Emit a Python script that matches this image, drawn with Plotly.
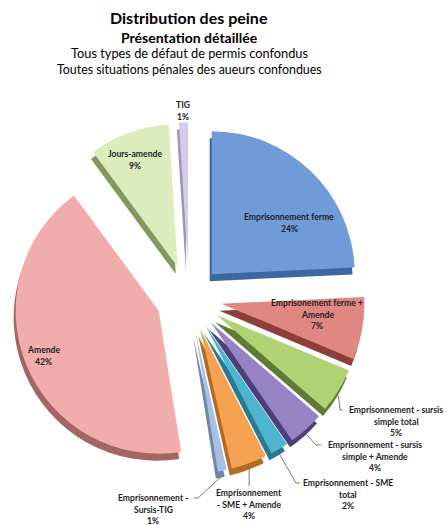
import math
import plotly.graph_objects as go

# ---------------- data ----------------
categories = [
    "Emprisonnement ferme",
    "Emprisonement ferme + Amende",
    "Emprisonnement - sursis simple total",
    "Emprisonnement - sursis simple + Amende",
    "Emprisonnement - SME total",
    "Emprisonnement - SME + Amende",
    "Emprisonnement - Sursis-TIG",
    "Amende",
    "Jours-amende",
    "TIG",
]
values = [24, 7, 5, 4, 2, 4, 1, 42, 9, 1]
display_labels = [
    ["Emprisonnement ferme"],
    ["Emprisonement ferme +", "Amende"],
    ["Emprisonnement - sursis", "simple total"],
    ["Emprisonnement - sursis", "simple + Amende"],
    ["Emprisonnement - SME", "total"],
    ["Emprisonnement", "- SME + Amende"],
    ["Emprisonnement -", "Sursis-TIG"],
    ["Amende"],
    ["Jours-amende"],
    ["TIG"],
]
title_lines = [
    "Distribution des peine",
    "Présentation détaillée",
    "Tous types de défaut de permis confondus",
    "Toutes situations pénales des aueurs confondues",
]

# ---------------- styles ----------------
colors = ["#6f9bd8", "#e08784", "#b0d273", "#9683c4", "#4cb5cf",
          "#f4a152", "#a9c0e6", "#f0adab", "#dbedbd", "#d5cbea"]
side_colors = ["#3b68a3", "#8f3d3a", "#5f7b35", "#4f3f78", "#2b7a8d",
               "#b46a22", "#6f87aa", "#a36665", "#84985d", "#9c93b5"]
pulls = [0.23] * len(values)
FONT = "Lato, Open Sans, sans-serif"

W, H = 448, 525
CX, CY, R = 189, 298, 143
PULL = max(pulls)
half = R * (1 + PULL)


def px(x):
    return x / W


def py(y):
    return 1 - y / H


dom_x = [px(CX - half), px(CX + half)]
dom_y = [py(CY + half), py(CY - half)]
DX, DY = -2, 7  # depth of the 3D side

fig = go.Figure()
fig.add_trace(go.Pie(
    labels=categories, values=values, sort=False, direction="clockwise",
    rotation=0, pull=pulls, textinfo="none", hoverinfo="skip",
    marker=dict(colors=side_colors, line=dict(width=0)),
    domain=dict(x=[px(CX - half + DX), px(CX + half + DX)],
                y=[py(CY + half + DY), py(CY - half + DY)]),
    showlegend=False,
))
fig.add_trace(go.Pie(
    labels=categories, values=values, sort=False, direction="clockwise",
    rotation=0, pull=pulls, textinfo="none",
    marker=dict(colors=colors, line=dict(width=0)),
    domain=dict(x=dom_x, y=dom_y),
    showlegend=False,
))

annotations = []
# titles
title_specs = [(18, 16, True), (37, 14, True), (53, 12.8, False), (70, 12.4, False)]
for txt, (yy, fs, bold) in zip(title_lines, title_specs):
    annotations.append(dict(
        x=px(189), y=py(yy), xref="paper", yref="paper", showarrow=False,
        text=f"<b>{txt}</b>" if bold else txt,
        font=dict(family=FONT, size=fs, color="#000"),
        xanchor="center", yanchor="middle"))

# label positions (px): centre x, centre of first line
label_pos = [(289, 217), (317, 303), (396, 410), (375, 445), (348, 483),
             (249, 493), (153, 498), (43, 350), (135, 154), (183, 105)]
LINE = 11.6
for i, (lines, v) in enumerate(zip(display_labels, values)):
    x, y = label_pos[i]
    for k, t in enumerate(lines + [f"{v}%"]):
        annotations.append(dict(
            x=px(x), y=py(y + k * LINE), xref="paper", yref="paper",
            showarrow=False, text=f"<b>{t}</b>",
            font=dict(family=FONT, size=8.6, color="#222"),
            xanchor="center", yanchor="middle", borderpad=0))

# leader lines for outside labels, anchored to slice arc midpoints
total = sum(values)
cum = 0
mids = []
for v in values:
    mids.append((cum + v / 2) / total * 2 * math.pi)
    cum += v

leaders = {2: [(340, 410), (343, 410)],
           3: [(316, 445), (321, 445)],
           4: [(296, 483), (300, 483)],
           5: [None, None],
           6: [(198, 498), (194, 498)]}
shapes = []
for i, pts in leaders.items():
    th = mids[i]
    rr = R * (1 + pulls[i])
    ax = CX + rr * math.sin(th)
    ay = CY - rr * math.cos(th) + 5
    if pts[0] is None:
        pts = [(ax, 485), (ax, 486)]
    path = f"M {px(ax)} {py(ay)} L {px(pts[0][0])} {py(pts[0][1])} L {px(pts[1][0])} {py(pts[1][1])}"
    shapes.append(dict(type="path", xref="paper", yref="paper", path=path,
                       line=dict(color="#7a7a7a", width=1)))

fig.update_layout(
    width=W, height=H, margin=dict(l=0, r=0, t=0, b=0),
    paper_bgcolor="white", plot_bgcolor="white",
    annotations=annotations, shapes=shapes,
)
fig.write_html("out.html", config={"displayModeBar": False},
               post_script="document.body.style.margin='0';")
